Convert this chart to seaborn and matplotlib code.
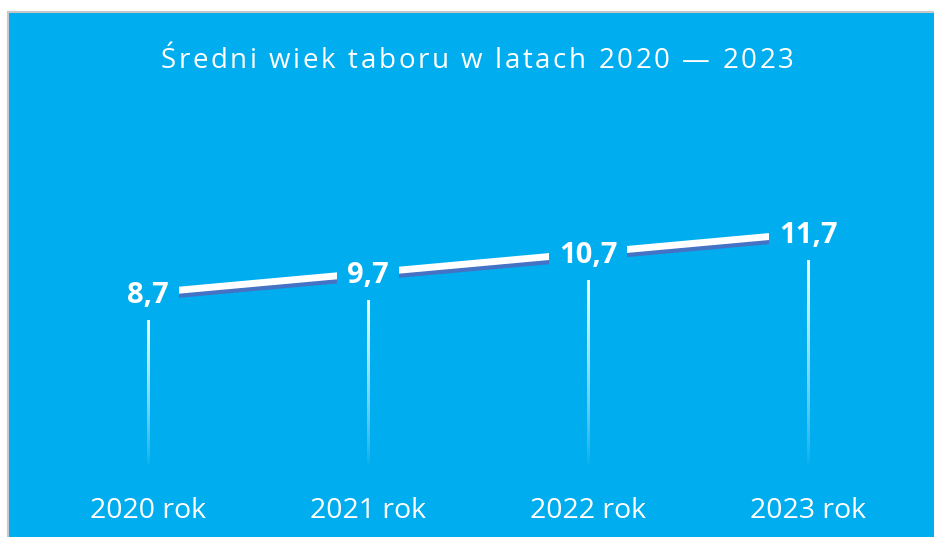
import matplotlib
matplotlib.use("Agg")
import matplotlib.pyplot as plt
import matplotlib.patheffects as pe
from matplotlib.textpath import TextToPath
from matplotlib.font_manager import FontProperties
import numpy as np
import pandas as pd
import seaborn as sns

categories = ["2020 rok", "2021 rok", "2022 rok", "2023 rok"]
values = [8.7, 9.7, 10.7, 11.7]
value_labels = ["8,7", "9,7", "10,7", "11,7"]
title = "Średni wiek taboru w latach 2020 — 2023"

BLUE = "#00ADEE"
SHADOW = "#4472C4"

sns.set_theme(style="white")
plt.rcParams["font.family"] = ["Open Sans", "DejaVu Sans"]

W, H = 934, 537
fig = plt.figure(figsize=(W / 100, H / 100), dpi=100)
fig.patch.set_facecolor("white")
panel = plt.Rectangle((8 / W, -0.01), 1 - 8 / W + 0.02, 1 - 12 / H + 0.01, transform=fig.transFigure,
                      facecolor=BLUE, edgecolor="#C8C8C8", linewidth=1.5, zorder=-10)
fig.patches.append(panel)

ax = fig.add_axes([0, 0, 1, 1])
ax.set_zorder(5)
ax.patch.set_alpha(0)
df = pd.DataFrame({"x": np.arange(len(categories)), "y": values})

# drop lines with fading gradient (white at top, transparent at bottom)
grad = np.zeros((200, 1, 4))
grad[..., :3] = 1.0
grad[:, 0, 3] = np.linspace(0.95, 0.0, 200) ** 0.8
half_w = 1.4 / 220
for xi, v in zip(df["x"], df["y"]):
    ax.imshow(grad, extent=[xi - half_w, xi + half_w, 0, v - 1.25], aspect="auto",
              interpolation="bilinear", zorder=1)

sns.lineplot(data=df, x="x", y="y", ax=ax, color="white", linewidth=5, zorder=2,
             path_effects=[pe.SimpleLineShadow(offset=(0, -3), shadow_color=SHADOW, alpha=1),
                           pe.Normal()])

for xi, v, lab in zip(df["x"], df["y"], value_labels):
    ax.text(xi, v - 0.12, lab, ha="center", va="center", fontsize=21, fontweight="bold",
            color="white", zorder=3,
            bbox=dict(boxstyle="square,pad=0.35", facecolor=BLUE, edgecolor="none"))

for xi, c in zip(df["x"], categories):
    ax.text(xi, -2.2, c, ha="center", va="center", fontsize=20.5, color="white", zorder=3)

# title with letter spacing
fp = FontProperties(family=["Open Sans", "DejaVu Sans"], size=20)
t2p = TextToPath()
def wpx(s):
    if not s:
        return 0.0
    w, _, _ = t2p.get_text_width_height_descent(s, fp, ismath=False)
    return w * 100 / 72.0
spacing = 2.6
total = wpx(title) + spacing * (len(title) - 1)
x0 = 477 - total / 2
for i, ch in enumerate(title):
    xp = x0 + wpx(title[:i]) + spacing * i
    fig.text(xp / W, 1 - 61 / H, ch, ha="left", va="center", fontproperties=fp, color="white")

ax.set_xlim(-148 / 220, (W - 148) / 220)
ax.set_ylim(-(H - 467) / 20, 467 / 20)
ax.axis("off")

fig.savefig("out.png", dpi=100, facecolor="white")
